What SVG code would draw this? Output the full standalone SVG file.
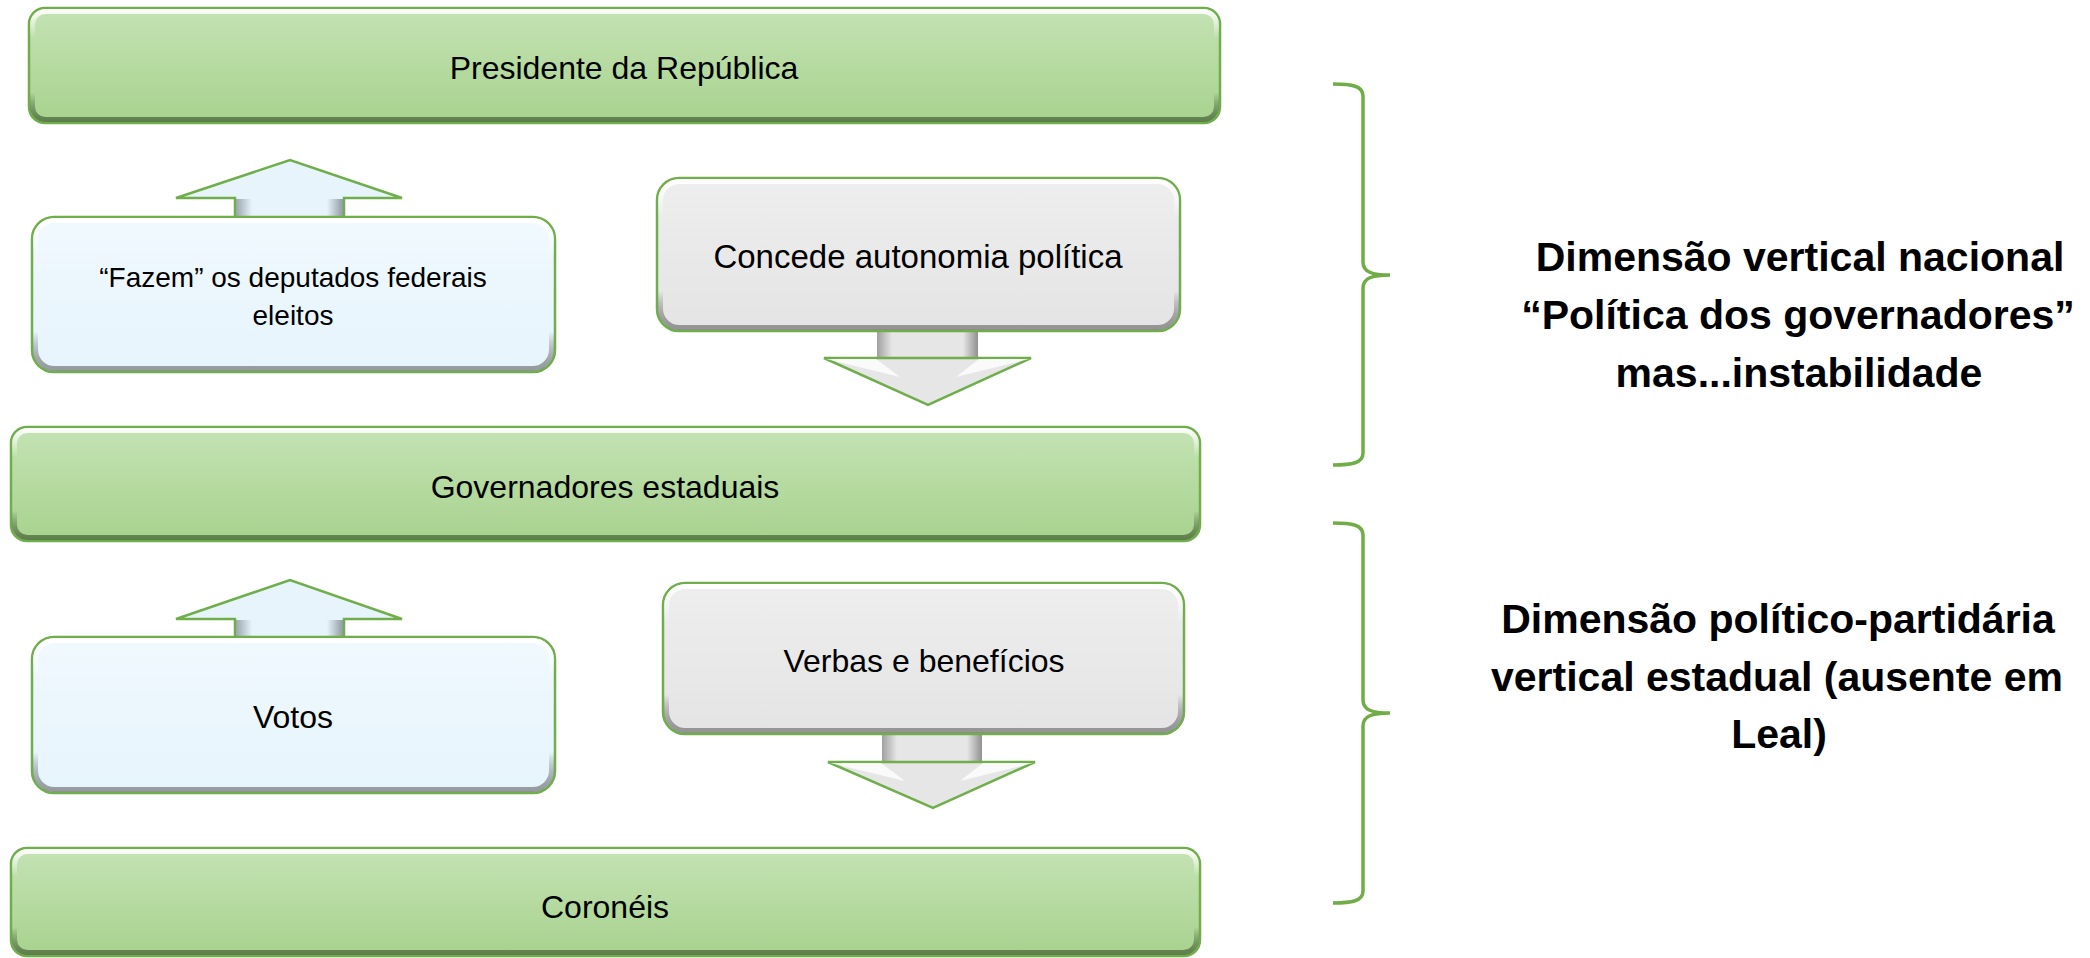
<svg xmlns="http://www.w3.org/2000/svg" width="2090" height="958" viewBox="0 0 2090 958">
<defs>
<linearGradient id="gGreen" x1="0" y1="0" x2="0" y2="1">
<stop offset="0" stop-color="#c4e3b4"/>
<stop offset="1" stop-color="#a8d28e"/>
</linearGradient>
<linearGradient id="gBlue" x1="0" y1="0" x2="0" y2="1">
<stop offset="0" stop-color="#f0f9fe"/>
<stop offset="1" stop-color="#e6f4fc"/>
</linearGradient>
<linearGradient id="gGray" x1="0" y1="0" x2="0" y2="1">
<stop offset="0" stop-color="#eeeeee"/>
<stop offset="1" stop-color="#e4e4e4"/>
</linearGradient>
<linearGradient id="bevel" x1="0" y1="0" x2="0" y2="1">
<stop offset="0" stop-color="#ffffff" stop-opacity="0.9"/>
<stop offset="0.25" stop-color="#ffffff" stop-opacity="0"/>
<stop offset="0.75" stop-color="#000000" stop-opacity="0"/>
<stop offset="1" stop-color="#2f4a22" stop-opacity="0.6"/>
</linearGradient>
<linearGradient id="bevelL" x1="0" y1="0" x2="0" y2="1">
<stop offset="0" stop-color="#ffffff" stop-opacity="1"/>
<stop offset="0.25" stop-color="#ffffff" stop-opacity="0"/>
<stop offset="0.75" stop-color="#000000" stop-opacity="0"/>
<stop offset="1" stop-color="#606060" stop-opacity="0.6"/>
</linearGradient>
<linearGradient id="shaftB" x1="0" y1="0" x2="1" y2="0">
<stop offset="0" stop-color="#9aa6ae"/>
<stop offset="0.15" stop-color="#e8f4fc"/>
<stop offset="0.85" stop-color="#e8f4fc"/>
<stop offset="1" stop-color="#8f9aa2"/>
</linearGradient>
<linearGradient id="shaftG" x1="0" y1="0" x2="1" y2="0">
<stop offset="0" stop-color="#a0a0a0"/>
<stop offset="0.15" stop-color="#e6e6e6"/>
<stop offset="0.85" stop-color="#e6e6e6"/>
<stop offset="1" stop-color="#909090"/>
</linearGradient>
</defs>
<style>
.bar{fill:url(#gGreen);stroke:#6fae4a;stroke-width:2.5}
.blue{fill:url(#gBlue);stroke:#6fae4a;stroke-width:2.5}
.gray{fill:url(#gGray);stroke:#6fae4a;stroke-width:2.5}
.bev{fill:none;stroke:url(#bevel);stroke-width:5}
.bevl{fill:none;stroke:url(#bevelL);stroke-width:5}
.arrB{fill:#e8f4fc;stroke:#6fae4a;stroke-width:2.5;stroke-linejoin:miter}
.arrG{fill:#e6e6e6;stroke:#6fae4a;stroke-width:2.5;stroke-linejoin:miter}
.t{font-family:"Liberation Sans",Arial,sans-serif;font-size:32px;fill:#000;text-anchor:middle}
.ts{font-size:28px}
.tb{font-family:"Liberation Sans",Arial,sans-serif;font-size:41px;font-weight:bold;fill:#000;text-anchor:middle}
.brace{fill:none;stroke:#70ad47;stroke-width:3.5}
</style>
<rect width="2090" height="958" fill="#ffffff"/>

<g id="connectors">
<g id="arrow-up-1">
<polygon class="arrB" points="176,198 290,160 402,198 344,198 344,222 235,222 235,198"/>
<rect x="236" y="199" width="107" height="22" fill="url(#shaftB)"/>
</g>
<g id="arrow-down-1">
<rect x="877" y="325" width="101" height="34" fill="url(#shaftG)"/>
<polygon class="arrG" points="877,358 824,358 928,405 1031,358 978,358"/>
<polygon points="826,359 876,359 900,377" fill="#ffffff" opacity="0.8"/>
<polygon points="1029,359 979,359 956,377" fill="#ffffff" opacity="0.8"/>
</g>
<g id="arrow-up-2">
<polygon class="arrB" points="176,619 290,580 402,619 344,619 344,642 235,642 235,619"/>
<rect x="236" y="620" width="107" height="21" fill="url(#shaftB)"/>
</g>
<g id="arrow-down-2">
<rect x="882" y="729" width="100" height="34" fill="url(#shaftG)"/>
<polygon class="arrG" points="882,762 828,762 933,808 1035,762 982,762"/>
<polygon points="830,763 881,763 905,781" fill="#ffffff" opacity="0.8"/>
<polygon points="1033,763 983,763 960,781" fill="#ffffff" opacity="0.8"/>
</g>
</g>

<g id="node-presidente">
<rect class="bar" x="29" y="8" width="1191" height="115" rx="16"/>
<rect class="bev" x="32.5" y="11.5" width="1184" height="108" rx="13"/>
<text class="t" x="624" y="79">Presidente da República</text>
</g>

<g id="node-fazem">
<rect class="blue" x="32" y="217" width="523" height="155" rx="22"/>
<rect class="bevl" x="35.5" y="220.5" width="516" height="148" rx="19"/>
<text class="t ts" x="293" y="287">“Fazem” os deputados federais</text>
<text class="t ts" x="293" y="325">eleitos</text>
</g>

<g id="node-concede">
<rect class="gray" x="657" y="178" width="523" height="153" rx="22"/>
<rect class="bevl" x="660.5" y="181.5" width="516" height="146" rx="19"/>
<text class="t" x="918" y="268" style="font-size:33px">Concede autonomia política</text>
</g>

<g id="node-governadores">
<rect class="bar" x="11" y="427" width="1189" height="114" rx="16"/>
<rect class="bev" x="14.5" y="430.5" width="1182" height="107" rx="13"/>
<text class="t" x="605" y="498">Governadores estaduais</text>
</g>

<g id="node-votos">
<rect class="blue" x="32" y="637" width="523" height="156" rx="22"/>
<rect class="bevl" x="35.5" y="640.5" width="516" height="149" rx="19"/>
<text class="t" x="293" y="728">Votos</text>
</g>

<g id="node-verbas">
<rect class="gray" x="663" y="583" width="521" height="151" rx="22"/>
<rect class="bevl" x="666.5" y="586.5" width="514" height="144" rx="19"/>
<text class="t" x="924" y="672">Verbas e benefícios</text>
</g>

<g id="node-coroneis">
<rect class="bar" x="11" y="848" width="1189" height="108" rx="16"/>
<rect class="bev" x="14.5" y="851.5" width="1182" height="101" rx="13"/>
<text class="t" x="605" y="918">Coronéis</text>
</g>

<g id="brace-1">
<path class="brace" d="M1333,84 C1352,84 1363,86 1363,96 L1363,262 C1363,272 1372,275 1390,275 C1372,275 1363,278 1363,288 L1363,453 C1363,463 1352,465 1333,465"/>
</g>
<g id="label-1">
<text class="tb" x="1800" y="271">Dimensão vertical nacional</text>
<text class="tb" x="1798" y="329">“Política dos governadores”</text>
<text class="tb" x="1799" y="387">mas...instabilidade</text>
</g>

<g id="brace-2">
<path class="brace" d="M1333,523 C1352,523 1363,525 1363,535 L1363,700 C1363,710 1372,713 1390,713 C1372,713 1363,716 1363,726 L1363,891 C1363,901 1352,903 1333,903"/>
</g>
<g id="label-2">
<text class="tb" x="1778" y="633">Dimensão político-partidária</text>
<text class="tb" x="1777" y="691">vertical estadual (ausente em</text>
<text class="tb" x="1779" y="748">Leal)</text>
</g>
</svg>
